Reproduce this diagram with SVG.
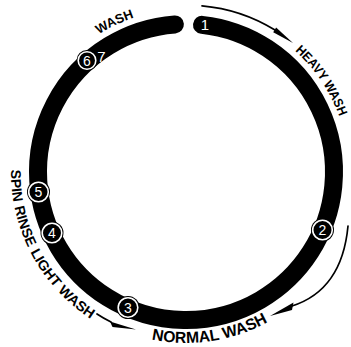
<svg xmlns="http://www.w3.org/2000/svg" xmlns:xlink="http://www.w3.org/1999/xlink" width="351" height="347" viewBox="0 0 351 347">
<style>
.ring{fill:none;stroke:#000;stroke-width:18;stroke-linecap:round}
.lbl{font-family:"Liberation Sans",Arial,sans-serif;font-weight:bold;fill:#000}
.num{font-family:"Liberation Sans",Arial,sans-serif;font-size:14px;fill:#fff;text-anchor:middle}
.big{font-size:15px}
.dot{fill:#000}
.dotring{fill:none;stroke:#fff;stroke-width:1.6}
.arr{fill:none;stroke:#000;stroke-width:1.7;stroke-linecap:round}
.head{fill:#000}
</style>
<defs>
<path id="topPath" d="M 81.22 47.14 A 163 163 0 0 1 346.52 143.70"/>
<path id="botPath" d="M 11.24 162.84 A 175 175 0 0 0 298.49 306.06"/>
<path id="normPath" d="M 127.52 332.69 A 171 171 0 0 0 295.92 302.99"/>
</defs>
<rect width="351" height="347" fill="#fff"/>
<path class="ring" d="M 201.98 24.87 A 148 148 0 1 1 174.90 24.42"/>
<g id="connectors">
<path class="arr" d="M 202 5.8 A 167 167 0 0 1 275 30"/>
<polygon class="head" points="293,43 276.1,27.6 273.2,32.3"/>
<path class="arr" d="M 348 226 Q 342 290 292 306"/>
<polygon class="head" points="270,316 293.5,302.5 292,310"/>
<path class="arr" d="M 97 314 Q 103 318 111 322"/>
<polygon class="head" points="136,329.5 110,321.5 112.5,327"/>
</g>
<g id="labels">
<text class="lbl" font-size="13"><textPath xlink:href="#topPath" startOffset="21.9">WASH</textPath></text>
<text class="lbl" font-size="13"><textPath xlink:href="#topPath" startOffset="233" textLength="80" lengthAdjust="spacingAndGlyphs">HEAVY WASH</textPath></text>
<text class="lbl" font-size="14"><textPath xlink:href="#botPath" startOffset="7">SPIN</textPath></text>
<text class="lbl" font-size="14"><textPath xlink:href="#botPath" startOffset="44.4">RINSE</textPath></text>
<text class="lbl" font-size="14"><textPath xlink:href="#botPath" startOffset="92.2" textLength="91" lengthAdjust="spacingAndGlyphs">LIGHT WASH</textPath></text>
<text class="lbl" font-size="16"><textPath xlink:href="#normPath" startOffset="25" textLength="120" lengthAdjust="spacingAndGlyphs">NORMAL WASH</textPath></text>
</g>
<g id="n1"><text class="num big" x="205" y="30">1</text></g>
<g id="n2"><circle class="dot" cx="322.5" cy="230" r="11.5"/><circle class="dotring" cx="322.5" cy="230" r="9.8"/><text class="num" x="322.5" y="235">2</text></g>
<g id="n3"><circle class="dot" cx="128" cy="307.5" r="11.5"/><circle class="dotring" cx="128" cy="307.5" r="9.8"/><text class="num" x="128" y="312.5">3</text></g>
<g id="n4"><circle class="dot" cx="52" cy="233" r="11.5"/><circle class="dotring" cx="52" cy="233" r="9.8"/><text class="num" x="52" y="238">4</text></g>
<g id="n5"><circle class="dot" cx="38.5" cy="192" r="11.5"/><circle class="dotring" cx="38.5" cy="192" r="9.8"/><text class="num" x="38.5" y="197">5</text></g>
<g id="n6"><circle class="dot" cx="87" cy="60.5" r="10.5"/><circle class="dotring" cx="87" cy="60.5" r="8.8"/><text class="num" x="87" y="65.5">6</text></g>
<g id="n7"><text class="num big" x="101.5" y="62">7</text></g>
</svg>
